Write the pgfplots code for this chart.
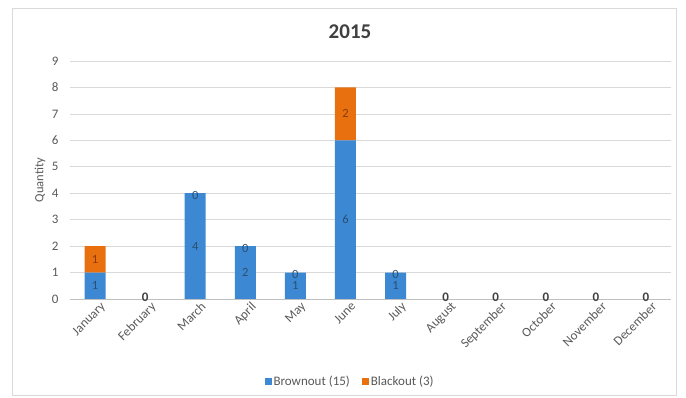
\documentclass[border=0pt]{standalone}
\usepackage{pgfplots}
\pgfplotsset{compat=1.18}
\usepackage{fontspec}
\setmainfont{Carlito}
\definecolor{gridc}{HTML}{D9D9D9}
\definecolor{axc}{HTML}{BFBFBF}
\definecolor{txt}{HTML}{595959}
\definecolor{ttl}{HTML}{404040}
\definecolor{blc}{HTML}{3C88D2}
\definecolor{orc}{HTML}{E8700E}
\definecolor{bltxt}{HTML}{2C4F70}
\definecolor{ortxt}{HTML}{8A3A08}
\begin{document}
\begin{tikzpicture}
\useasboundingbox (0,0) rectangle (686pt,398pt);
\draw[gridc, line width=0.8pt] (12pt,3pt) rectangle (676pt,390pt);
\node[font=\fontsize{21}{24}\selectfont\bfseries, text=ttl] at (350pt,366pt) {2015};
\begin{axis}[
  at={(70pt,99pt)}, anchor=south west,
  scale only axis, width=601pt, height=238pt,
  xmin=-0.5, xmax=11.5, ymin=0, ymax=9,
  ybar stacked, bar width=21pt,
  axis x line*=bottom, axis y line*=left,
  x axis line style={draw=axc, -}, y axis line style={draw=none},
  ytick={0,...,9}, ymajorgrids, grid style={gridc, line width=0.6pt},
  major tick length=0pt,
  xtick={0,...,11},
  xticklabels={January,February,March,April,May,June,July,August,September,October,November,December},
  xticklabel style={rotate=45, anchor=north east, font=\fontsize{13}{15}\selectfont, text=txt, inner sep=0pt, yshift=-5pt, xshift=2pt},
  yticklabel style={font=\fontsize{13}{15}\selectfont, text=txt, xshift=-8pt},
  /pgf/number format/assume math mode=true,
  legend style={at={(0.466,-0.345)}, anchor=center, draw=none, legend columns=2,
    font=\fontsize{13}{15}\selectfont, text=txt, /tikz/every even column/.append style={column sep=10pt}},
  legend image code/.code={\fill[#1] (0pt,-3.5pt) rectangle (7pt,3.5pt);},
]
\addplot[draw=none, fill=blc] coordinates {
(0,1) (1,0) (2,4) (3,2) (4,1) (5,6) (6,1) (7,0) (8,0) (9,0) (10,0) (11,0)};
\addlegendentry{Brownout (15)}
\addplot[draw=none, fill=orc] coordinates {
(0,1) (1,0) (2,0) (3,0) (4,0) (5,2) (6,0) (7,0) (8,0) (9,0) (10,0) (11,0)};
\addlegendentry{Blackout (3)}
\end{axis}
% labels overlay axis
\begin{axis}[
  at={(70pt,99pt)}, anchor=south west,
  scale only axis, width=601pt, height=238pt,
  xmin=-0.5, xmax=11.5, ymin=0, ymax=9,
  axis lines=none, ticks=none, clip=false,
  nodes near coords, point meta=explicit symbolic,
  every node near coord/.append style={font=\fontsize{12.5}{14}\selectfont, anchor=center, inner sep=0pt},
]
\addplot[draw=none, mark=none, nodes near coords style={text=bltxt}] coordinates {
(0,0.5) [1] (2,2) [4] (3,1) [2] (4,0.5) [1] (5,3) [6] (6,0.5) [1]};
\addplot[draw=none, mark=none, nodes near coords style={text=ortxt}] coordinates {
(0,1.5) [1] (5,7) [2]};
\addplot[draw=none, mark=none, nodes near coords style={text=bltxt, yshift=-2pt}] coordinates {
(2,4) [0] (3,2) [0] (4,1) [0] (6,1) [0]};
\addplot[draw=none, mark=none, nodes near coords style={text=ttl, font=\fontsize{13}{14}\selectfont\bfseries, yshift=2pt}] coordinates {
(1,0) [0] (7,0) [0] (8,0) [0] (9,0) [0] (10,0) [0] (11,0) [0]};
\end{axis}
\node[rotate=90, font=\fontsize{12.5}{14}\selectfont, text=txt] at (40pt,218pt) {Quantity};
\end{tikzpicture}
\end{document}
